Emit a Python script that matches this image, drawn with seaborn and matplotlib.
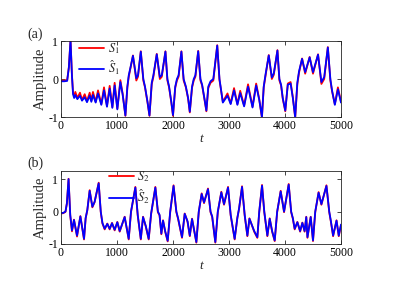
import numpy as np
import pandas as pd
import seaborn as sns
import matplotlib
matplotlib.use("Agg")
import matplotlib.pyplot as plt

# ---------------- data ----------------
t1 = [0, 60, 110, 140, 170, 195, 215, 235, 256, 292, 339, 375, 423, 464, 512, 542,
      571, 619, 661, 720, 768, 821, 869, 917, 958, 1006, 1060, 1100, 1150, 1185,
      1210, 1240, 1285, 1345, 1375, 1425, 1470, 1500, 1545, 1580, 1620, 1650, 1710,
      1765, 1800, 1865, 1900, 1930, 1970, 2000, 2040, 2070, 2100, 2150, 2190, 2230,
      2270, 2300, 2340, 2370, 2400, 2450, 2490, 2520, 2560, 2596, 2630, 2670, 2720,
      2790, 2830, 2850, 2890, 2973, 3030, 3090, 3150, 3200, 3270, 3340, 3420, 3485,
      3540, 3588, 3620, 3650, 3710, 3765, 3800, 3865, 3900, 3930, 3960, 4005, 4050,
      4100, 4140, 4182, 4220, 4250, 4305, 4360, 4440, 4500, 4590, 4650, 4700, 4765,
      4810, 4840, 4890, 4945, 5000]
s1_hat = [-0.06, -0.06, -0.05, 0.30, 1.02, 0.10, -0.40, -0.50, -0.42, -0.53, -0.44, -0.57,
          -0.48, -0.61, -0.44, -0.60, -0.42, -0.62, -0.38, -0.68, -0.30, -0.73, -0.25,
          -0.76, -0.17, -0.80, -0.08, -0.40, -0.96, -0.20, 0.10, 0.30, 0.61, 0.02, 0.10,
          0.72, 0.00, -0.20, -0.60, -0.96, -0.10, 0.10, 0.65, 0.05, 0.10, 0.72, 0.00,
          -0.20, -0.60, -0.95, -0.20, 0.00, 0.10, 0.72, 0.00, -0.20, -0.50, -0.86, -0.20,
          0.00, 0.10, 0.73, 0.00, -0.15, -0.50, -0.83, -0.20, -0.06, 0.00, 0.88, 0.00,
          -0.20, -0.62, -0.44, -0.66, -0.30, -0.68, -0.37, -0.72, -0.20, -0.75, -0.17,
          -0.55, -1.00, -0.20, 0.10, 0.62, 0.04, 0.15, 0.75, 0.00, -0.15, -0.50, -0.83,
          -0.15, -0.12, -0.50, -1.00, -0.10, 0.20, 0.53, 0.18, 0.57, 0.18, 0.64, -0.08,
          0.05, 0.83, 0.00, -0.30, -0.68, -0.27, -0.62]
s1 = [-0.04, -0.04, -0.03, 0.30, 1.02, 0.12, -0.36, -0.45, -0.34, -0.50, -0.36, -0.55,
      -0.40, -0.58, -0.36, -0.57, -0.34, -0.60, -0.30, -0.66, -0.22, -0.71, -0.18,
      -0.74, -0.10, -0.78, -0.03, -0.38, -0.97, -0.22, 0.06, 0.28, 0.62, -0.04, 0.06,
      0.73, -0.04, -0.22, -0.62, -0.97, -0.14, 0.06, 0.66, 0.00, 0.06, 0.73, -0.04,
      -0.22, -0.62, -0.97, -0.23, -0.04, 0.06, 0.73, -0.04, -0.22, -0.52, -0.88, -0.23,
      -0.04, 0.06, 0.74, -0.04, -0.17, -0.52, -0.85, -0.24, -0.10, -0.04, 0.89, -0.03,
      -0.22, -0.60, -0.38, -0.64, -0.24, -0.66, -0.31, -0.70, -0.14, -0.73, -0.12,
      -0.53, -1.02, -0.22, 0.06, 0.63, 0.00, 0.11, 0.76, -0.04, -0.17, -0.52, -0.85,
      -0.12, -0.08, -0.48, -1.02, -0.14, 0.16, 0.54, 0.14, 0.58, 0.14, 0.65, -0.13,
      0.00, 0.84, -0.04, -0.32, -0.66, -0.22, -0.60]

t2 = [0, 40, 80, 105, 135, 165, 196, 232, 286, 346, 411, 440, 470, 512, 560, 600, 673,
      710, 740, 780, 827, 869, 911, 958, 1006, 1048, 1137, 1209, 1250, 1328, 1370,
      1425, 1465, 1515, 1566, 1610, 1685, 1730, 1760, 1792, 1822, 1860, 1905, 1950,
      2010, 2060, 2090, 2161, 2209, 2260, 2300, 2340, 2417, 2460, 2512, 2554, 2625,
      2670, 2700, 2756, 2800, 2863, 2911, 2983, 3030, 3101, 3149, 3180, 3233, 3280,
      3328, 3365, 3450, 3506, 3540, 3590, 3630, 3685, 3727, 3770, 3816, 3860, 3923,
      3983, 4066, 4110, 4140, 4173, 4221, 4270, 4310, 4350, 4380, 4401, 4459, 4500,
      4540, 4600, 4650, 4740, 4790, 4820, 4859, 4920, 4960, 5000]
s2_hat = [-0.05, -0.04, 0.00, 0.25, 1.00, -0.10, -0.58, -0.26, -0.74, -0.15, -0.84,
          -0.20, 0.05, 0.64, 0.15, 0.30, 0.87, 0.00, -0.35, -0.53, -0.38, -0.53, -0.36,
          -0.56, -0.33, -0.60, -0.17, -0.84, 0.00, 0.74, -0.10, -0.84, -0.17, -0.45,
          -0.84, -0.05, 0.74, 0.00, -0.10, -0.68, -0.28, -0.60, -0.90, 0.00, 0.79, 0.00,
          -0.20, -0.79, -0.07, -0.30, -0.74, -0.23, -0.94, 0.00, 0.54, 0.28, 0.69, 0.00,
          -0.15, -0.94, 0.00, 0.59, 0.23, 0.74, -0.10, -0.84, -0.20, 0.10, 0.76, -0.10,
          -0.74, -0.22, -0.60, -0.79, 0.00, 0.80, 0.00, -0.74, -0.22, -0.60, -0.89, 0.00,
          0.62, 0.00, 0.83, 0.00, -0.20, -0.53, -0.33, -0.60, -0.35, -0.60, -0.17, -0.79,
          -0.17, -0.89, 0.00, 0.58, 0.23, 0.79, 0.00, -0.30, -0.74, -0.28, -0.74, -0.40]
s2 = [-0.06, -0.05, -0.01, 0.25, 1.01, -0.12, -0.61, -0.25, -0.77, -0.14, -0.86,
      -0.21, 0.04, 0.66, 0.13, 0.29, 0.89, -0.02, -0.37, -0.55, -0.37, -0.55, -0.35,
      -0.58, -0.32, -0.62, -0.16, -0.86, -0.02, 0.76, -0.12, -0.86, -0.16, -0.47,
      -0.86, -0.07, 0.76, -0.02, -0.12, -0.70, -0.27, -0.62, -0.92, -0.02, 0.81, -0.02,
      -0.22, -0.81, -0.06, -0.32, -0.76, -0.22, -0.96, -0.02, 0.56, 0.26, 0.71, -0.02,
      -0.17, -0.96, -0.02, 0.61, 0.21, 0.76, -0.12, -0.86, -0.19, 0.08, 0.78, -0.12,
      -0.76, -0.21, -0.62, -0.81, -0.02, 0.82, -0.02, -0.76, -0.21, -0.62, -0.91, -0.02,
      0.64, -0.02, 0.85, -0.02, -0.22, -0.55, -0.32, -0.62, -0.34, -0.62, -0.16, -0.81,
      -0.16, -0.91, -0.02, 0.60, 0.21, 0.81, -0.02, -0.32, -0.76, -0.27, -0.76, -0.42]

xticks = [0, 1000, 2000, 3000, 4000, 5000]
yticks = [-1, 0, 1]
yticklabels = ['-1', '0', '1']

# ---------------- style ----------------
sns.set_theme(style='ticks')
plt.rcParams['font.family'] = ['Liberation Serif', 'DejaVu Serif']
plt.rcParams['mathtext.fontset'] = 'stix'
plt.rcParams['axes.edgecolor'] = '#262626'
plt.rcParams['axes.linewidth'] = 0.6

W, H = 416, 289
fig = plt.figure(figsize=(W / 100, H / 100), dpi=100)
fig.patch.set_facecolor('white')
ax1 = fig.add_axes([61 / W, 1 - 117 / H, 280 / W, 76 / H])
ax2 = fig.add_axes([61 / W, 1 - 244 / H, 280 / W, 73 / H])

panels = [
    (ax1, t1, s1, s1_hat, r'$S_1$', r'$\hat{S}_1$', (-1, 1), (0.065, 1.0), '(a)', 34),
    (ax2, t2, s2, s2_hat, r'$S_2$', r'$\hat{S}_2$', (-1, 1.25), (0.17, 1.02), '(b)', 163),
]

for ax, t, s, sh, lab, labh, ylim, anchor, tag, tagy in panels:
    df = pd.DataFrame({'t': t, 's': s, 'sh': sh})
    sns.lineplot(data=df, x='t', y='s', color='red', lw=1.3, ax=ax, label=lab)
    sns.lineplot(data=df, x='t', y='sh', color='blue', lw=1.3, ax=ax, label=labh)
    ax.set_xlim(0, 5000)
    ax.set_ylim(*ylim)
    ax.set_xticks(xticks)
    ax.set_yticks(yticks)
    ax.set_yticklabels(yticklabels)
    ax.tick_params(direction='in', top=True, right=True, length=3, width=0.6,
                   labelsize=8.5, pad=2, colors='#262626', labelcolor='black')
    ax.set_xlabel('t', fontstyle='italic', fontsize=9.5, labelpad=1)
    ax.set_ylabel('Amplitude', fontsize=10.5, labelpad=1)
    ax.legend(loc='upper left', bbox_to_anchor=anchor, frameon=False, fontsize=9,
              handlelength=2.0, handletextpad=0.3, labelspacing=0.25, borderpad=0,
              borderaxespad=0)
    fig.text(27 / W, 1 - tagy / H, tag, fontsize=10, va='center', ha='left')

fig.savefig('out.png', dpi=100, facecolor='white')
